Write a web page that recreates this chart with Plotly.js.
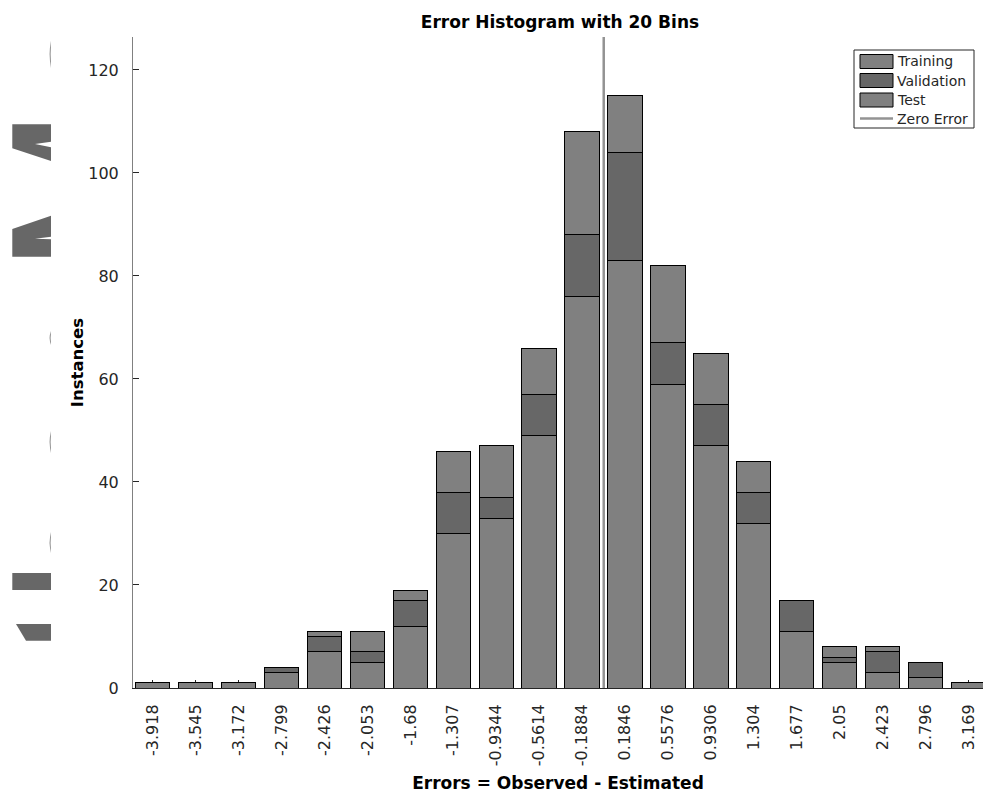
<!DOCTYPE html>
<html>
<head>
<meta charset="utf-8">
<script src="https://cdn.plot.ly/plotly-3.0.1.min.js"></script>
<style>html,body{margin:0;padding:0;background:#fff;}#chart{width:983px;height:793px;}</style>
</head>
<body>
<div id="chart"></div>
<script>
// ---- data ----
const binCenters = ['-3.918','-3.545','-3.172','-2.799','-2.426','-2.053','-1.68','-1.307','-0.9344','-0.5614','-0.1884','0.1846','0.5576','0.9306','1.304','1.677','2.05','2.423','2.796','3.169'];
const training   = [1,1,1,3,7,5,12,30,33,49,76,83,59,47,32,11,5,3,2,1];
const validation = [0,0,0,1,3,2,5,8,4,8,12,21,8,8,6,6,1,4,3,0];
const test       = [0,0,0,0,1,4,2,8,10,9,20,11,15,10,6,0,2,1,0,0];
const seriesNames = ['Training','Validation','Test'];
const legendLabels = ['Training','Validation','Test','Zero Error'];
const yTicks = [0,20,40,60,80,100,120];

// ---- layout geometry ----
const L = 133, T = 37, PW = 850, PH = 651;
const px = p => (p - L) / PW;
const py = p => (T + PH - p) / PH;
const FONT = 'DejaVu Sans, Verdana, sans-serif';
const LIGHT = '#808080', DARK = '#676767';

const idx = binCenters.map((_, i) => i);
const nums = binCenters.map(Number);
let zeroPos = 0;
for (let i = 0; i < nums.length - 1; i++) {
  if (nums[i] <= 0 && nums[i + 1] > 0) { zeroPos = i + (0 - nums[i]) / (nums[i + 1] - nums[i]); break; }
}
const yTop = 126.4;

const barStyle = c => ({color: c, line: {color: '#000', width: 1}});
const traces = [
  {type: 'bar', name: seriesNames[0], x: idx, y: training, marker: barStyle(LIGHT), showlegend: false, hoverinfo: 'none'},
  {type: 'bar', name: seriesNames[1], x: idx, y: validation, marker: barStyle(DARK), showlegend: false, hoverinfo: 'none'},
  {type: 'bar', name: seriesNames[2], x: idx, y: test, marker: barStyle(LIGHT), showlegend: false, hoverinfo: 'none'},
  {type: 'scatter', mode: 'lines', name: 'Zero Error', x: [zeroPos, zeroPos], y: [0, yTop], line: {color: '#939393', width: 2.5}, showlegend: false, hoverinfo: 'none'}
];

// ---- custom legend (MATLAB style) ----
const shapes = [];
const annotations = [];
shapes.push({type: 'rect', xref: 'paper', yref: 'paper', x0: px(854), x1: px(974), y0: py(50), y1: py(128), line: {color: '#262626', width: 1}, fillcolor: '#fff'});
const rowsY = [61.5, 80.5, 100, 118.5];
const patchColors = [LIGHT, DARK, LIGHT];
for (let i = 0; i < 3; i++) {
  shapes.push({type: 'rect', xref: 'paper', yref: 'paper', x0: px(860), x1: px(893), y0: py(rowsY[i] - 7), y1: py(rowsY[i] + 7), line: {color: '#000', width: 1}, fillcolor: patchColors[i]});
}
shapes.push({type: 'line', xref: 'paper', yref: 'paper', x0: px(860), x1: px(893), y0: py(rowsY[3]), y1: py(rowsY[3]), line: {color: '#939393', width: 2.5}});
legendLabels.forEach((t, i) => {
  annotations.push({xref: 'paper', yref: 'paper', x: px(895), y: py(rowsY[i]), xanchor: 'left', yanchor: 'middle', text: t, showarrow: false, font: {family: FONT, size: 14, color: '#262626'}});
});

// ---- stray grey fragments at the left edge of the reference ----
const polys = [
  [[12.3,124.3],[51,124.3],[51,141.7],[35,144],[51,147.3],[51,161],[12.3,148.3]],
  [[12.3,229],[51,215.7],[51,236.7],[35,238.7],[51,239.3],[51,256.7],[12.3,256.7]],
  [[12.3,573],[51,573],[51,590],[12.3,590]],
  [[16,624],[51,624],[51,640.7],[26,640.7]]
];
polys.forEach(pts => {
  const d = pts.map((p, i) => (i ? 'L' : 'M') + px(p[0]).toFixed(5) + ',' + py(p[1]).toFixed(5)).join(' ') + ' Z';
  shapes.push({type: 'path', xref: 'paper', yref: 'paper', path: d, fillcolor: '#676767', line: {width: 0}});
});
const arcs = [[40.7,68],[331,345],[431,453],[532,553]];
arcs.forEach(a => {
  const ym = (a[0] + a[1]) / 2;
  const d = 'M' + px(51) + ',' + py(a[0]) + ' Q' + px(48.3) + ',' + py(ym) + ' ' + px(51) + ',' + py(a[1]) +
            ' Q' + px(50) + ',' + py(ym) + ' ' + px(51) + ',' + py(a[0]) + ' Z';
  shapes.push({type: 'path', xref: 'paper', yref: 'paper', path: d, fillcolor: '#777', line: {width: 0}});
});

const layout = {
  width: 983, height: 793,
  margin: {l: L, r: 0, t: T, b: 793 - T - PH, pad: 0},
  paper_bgcolor: '#fff', plot_bgcolor: '#fff',
  barmode: 'stack', bargap: 0.2,
  showlegend: false,
  font: {family: FONT, color: '#262626'},
  title: {text: '<b>Error Histogram with 20 Bins</b>', font: {family: FONT, size: 17, color: '#000'}, x: 560 / 983, xref: 'container', xanchor: 'center', y: 1 - 22.5 / 793, yref: 'container', yanchor: 'middle'},
  xaxis: {
    range: [-0.46, -0.46 + PW / 42.93], tickmode: 'array', tickvals: idx, ticktext: binCenters,
    tickangle: -90, tickfont: {family: FONT, size: 16, color: '#262626'},
    ticks: 'inside', ticklen: 8, tickcolor: '#262626', tickwidth: 1,
    showline: true, linecolor: '#262626', linewidth: 1, showgrid: false, zeroline: false,
    layer: 'below traces',
    automargin: false, ticklabelstandoff: 9,
    title: {text: '<b>Errors = Observed - Estimated</b>', font: {family: FONT, size: 17, color: '#000'}, standoff: 16}
  },
  yaxis: {
    range: [0, yTop], tickmode: 'array', tickvals: yTicks,
    tickfont: {family: FONT, size: 16, color: '#262626'},
    ticks: 'inside', ticklen: 6, tickcolor: '#262626', tickwidth: 1,
    showline: true, linecolor: '#808080', linewidth: 1, showgrid: false, zeroline: false,
    layer: 'below traces',
    automargin: false, ticklabelstandoff: 10,
    title: {text: '<b>Instances</b>', font: {family: FONT, size: 16.5, color: '#000'}, standoff: 0}
  },
  shapes: shapes,
  annotations: annotations
};

Plotly.newPlot('chart', traces, layout, {displayModeBar: false, staticPlot: true});
</script>
</body>
</html>
